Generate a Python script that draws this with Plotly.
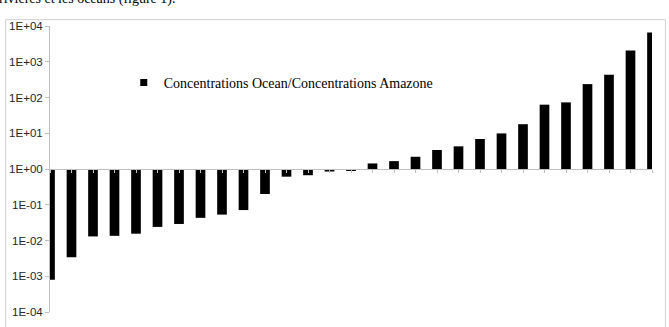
import plotly.graph_objects as go

# Ratio Concentrations Ocean / Concentrations Amazone (one bar per element, sorted)
categories = list(range(1, 30))
ratios = [8e-4, 3.4e-3, 1.3e-2, 1.35e-2, 1.55e-2, 2.4e-2, 2.9e-2, 4.3e-2, 5.3e-2,
          7.1e-2, 0.2, 0.61, 0.67, 0.85, 0.9, 1.43, 1.66, 2.2, 3.4, 4.3, 6.9, 9.9,
          17.9, 63, 73, 237, 435, 2070, 6570]
tick_vals = [1e-4, 1e-3, 1e-2, 1e-1, 1e0, 1e1, 1e2, 1e3, 1e4]
tick_text = ["1E-04", "1E-03", "1E-02", "1E-01", "1E+00", "1E+01", "1E+02", "1E+03", "1E+04"]
series_name = "Concentrations Ocean/Concentrations Amazone"
caption = "rivières et les océans (figure 1)."

W, H = 669, 327
L, R, T, B = 48, 17, 26, 9
pw, ph = W - L - R, H - T - B

def px(x):
    return (x - L) / pw

def py(y):
    return (H - B - y) / ph

base = 1.0
fig = go.Figure()
fig.add_trace(go.Bar(
    x=categories, y=[r - base for r in ratios], base=base,
    marker=dict(color="black", line=dict(width=0)),
    width=0.45, showlegend=False, cliponaxis=True,
))
fig.add_trace(go.Scatter(
    x=[None], y=[None], mode="markers", name=series_name,
    marker=dict(symbol="square", size=7, color="black"),
))

fig.update_layout(
    width=W, height=H,
    margin=dict(l=L, r=R, t=T, b=B),
    paper_bgcolor="white", plot_bgcolor="white",
    showlegend=True,
    legend=dict(x=px(122), y=py(84), xanchor="left", yanchor="middle",
                bgcolor="rgba(0,0,0,0)",
                font=dict(family="Liberation Serif", size=14, color="black"),
                itemwidth=30),
    xaxis=dict(range=[categories[0], categories[-1]], showgrid=False, zeroline=False,
               showticklabels=False, showline=True, linecolor="#bfbfbf", linewidth=1,
               ticks="outside", ticklen=3, tickcolor="#bfbfbf", tickvals=categories,
               anchor="free", position=0.5, layer="above traces"),
    yaxis=dict(type="log", range=[-4, 4], showgrid=False, zeroline=False,
               tickvals=tick_vals, ticktext=tick_text,
               showline=True, linecolor="#bfbfbf", linewidth=1,
               ticks="outside", ticklen=4, tickcolor="#bfbfbf",
               tickfont=dict(family="Liberation Sans", size=11.5, color="#262626")),
    shapes=[dict(type="rect", xref="paper", yref="paper",
                 x0=px(3.5), x1=px(665.5), y0=py(335), y1=py(19.5),
                 line=dict(color="#d0d0d0", width=1), fillcolor="rgba(0,0,0,0)",
                 layer="below")],
    annotations=[dict(text=caption, xref="paper", yref="paper",
                      x=px(-5), y=py(9), xanchor="left", yanchor="bottom",
                      showarrow=False,
                      font=dict(family="Liberation Serif", size=14, color="black"))],
)

fig.write_html("out.html")
